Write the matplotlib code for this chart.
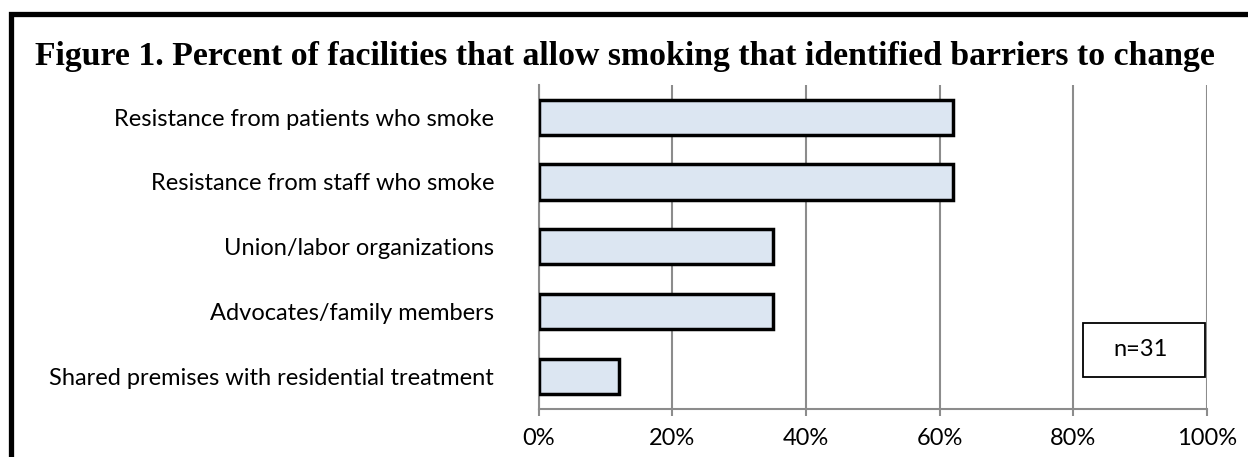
import matplotlib.pyplot as plt
from matplotlib.patches import Rectangle

# Данные
categories = [
    "Resistance from patients who smoke",
    "Resistance from staff who smoke",
    "Union/labor organizations",
    "Advocates/family members",
    "Shared premises with residential treatment",
]
percents = [62, 62, 35, 35, 12]
ticks = [0, 20, 40, 60, 80, 100]
tick_labels = ["0%", "20%", "40%", "60%", "80%", "100%"]
title = "Figure 1. Percent of facilities that allow smoking that identified barriers to change"
note = "n=31"

W, H = 1248, 457
fig = plt.figure(figsize=(W / 100, H / 100), dpi=100)

# рамка вокруг рисунка (обрезана справа и снизу)
fig.patches.append(Rectangle((10.5 / W, -0.2), 1.2, 1.2 - 13.8 / H + 0.0,
                             transform=fig.transFigure, fill=False,
                             edgecolor='black', linewidth=3.8))

fig.text(35 / W, 1 - 56 / H, title, fontsize=24.3, fontweight='bold',
         family='Liberation Serif', va='center', ha='left')

ax = fig.add_axes([538.6 / W, 1 - 409 / H, 668.5 / W, 324.3 / H])
y = list(range(len(categories)))
ax.barh(y, percents, height=0.54, color='#DCE6F2', edgecolor='black',
        linewidth=2.5, zorder=3)
ax.set_xlim(0, 100)
ax.set_ylim(len(categories) - 0.5, -0.5)
ax.set_xticks(ticks)
ax.set_xticklabels(tick_labels)
ax.set_yticks(y)
ax.set_yticklabels(categories)
ax.grid(axis='x', color='#8c8c8c', linewidth=1.5, zorder=0)
for s in ['top', 'right']:
    ax.spines[s].set_visible(False)
for s in ['left', 'bottom']:
    ax.spines[s].set_color('#8c8c8c')
    ax.spines[s].set_linewidth(1.5)
ax.tick_params(axis='x', direction='out', length=5, width=1.5, color='#8c8c8c',
               pad=9, labelsize=17)
ax.tick_params(axis='y', length=0, pad=32, labelsize=17)
for lbl in ax.get_xticklabels() + ax.get_yticklabels():
    lbl.set_family('Lato')

# поле с n
fig.patches.append(Rectangle((1083 / W, 1 - 377 / H), 122 / W, 54 / H,
                             transform=fig.transFigure, facecolor='white',
                             edgecolor='black', linewidth=1.3, zorder=5))
fig.text(1141 / W, 1 - 350 / H, note, fontsize=17, family='Lato',
         ha='center', va='center', zorder=6)

fig.savefig('out.png', dpi=100)
